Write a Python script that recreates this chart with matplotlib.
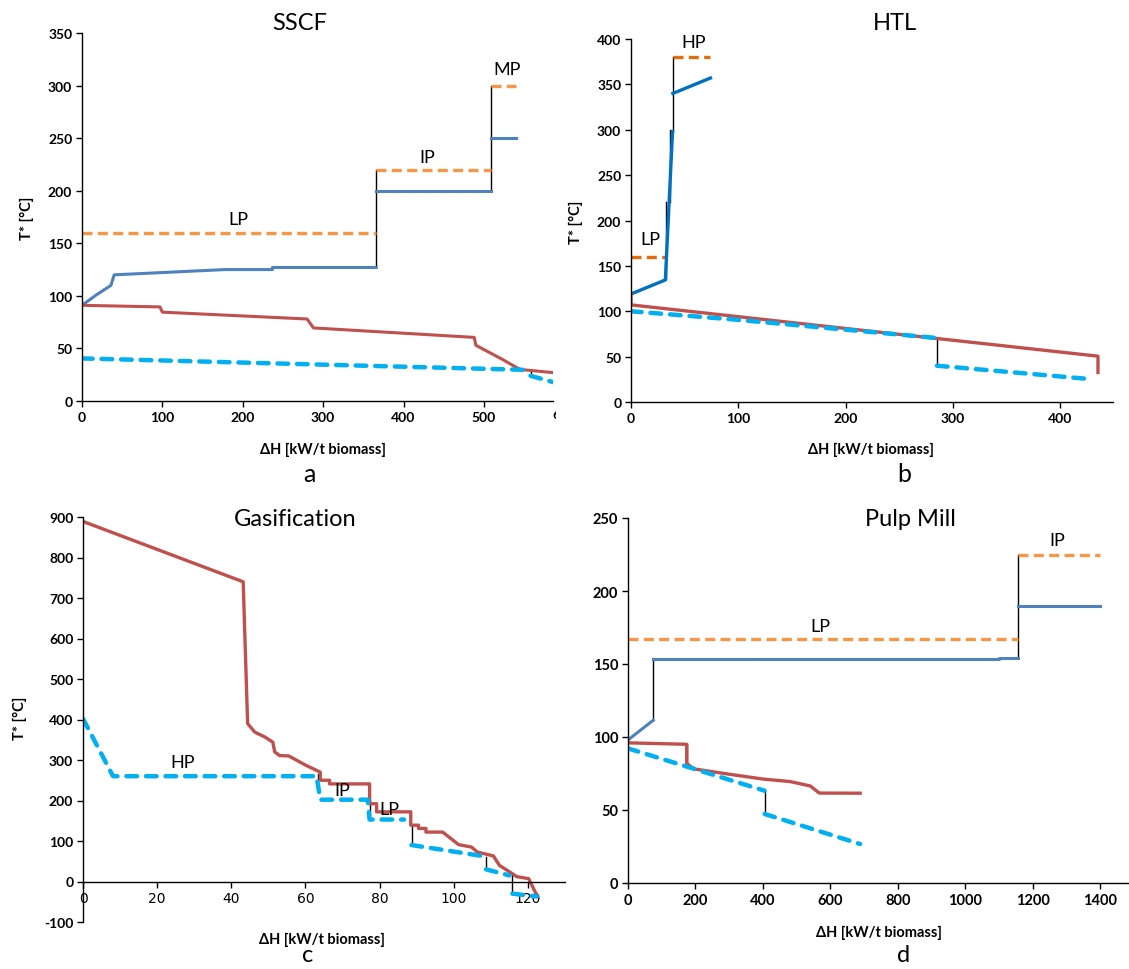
import matplotlib
matplotlib.use("Agg")
import matplotlib.pyplot as plt
from matplotlib.transforms import Bbox

W, H = 1129, 970
FONT = ["Lato", "DejaVu Sans"]
NARROW = ["Liberation Sans Narrow", "Lato", "DejaVu Sans"]

ORANGE = "#F79646"
ORANGE_DK = "#E46C0A"
BLUE = "#4F81BD"
BLUE_BR = "#0070C0"
RED = "#C0504D"
CYAN = "#00B0F0"

# --- a: SSCF ---
a_hot_x = [0, 18, 36, 40, 178, 237, 237, 366]
a_hot_y = [91, 101, 110, 120, 125, 125, 127, 127]
a_hot2_x = [366, 509]
a_hot2_y = [200, 200]
a_hot3_x = [509, 540]
a_hot3_y = [250, 250]
a_red_x = [0, 97, 100, 280, 288, 488, 490, 522, 545, 586]
a_red_y = [91, 89.5, 84.5, 78, 69.5, 60.5, 53, 40, 30, 27]
a_cyan_x = [0, 558]
a_cyan_y = [40.5, 29.5]
a_cyan2_x = [558, 586]
a_cyan2_y = [24, 18]
a_steam = [("LP", 0, 366, 160), ("IP", 366, 509, 220), ("MP", 509, 540, 300)]
a_vlines = [(366, 127, 220), (509, 200, 300), (559, 25, 29.5)]
a_labels = [("LP", 194, 173), ("IP", 430, 232), ("MP", 529, 316)]

# --- b: HTL ---
b_hot_x = [0, 32, 38.7]
b_hot_y = [119, 134.5, 298]
b_hot2_x = [39, 74]
b_hot2_y = [340, 357]
b_red_x = [0, 0, 435, 435]
b_red_y = [120, 107, 50.5, 32.5]
b_cyan_x = [0, 100, 285]
b_cyan_y = [100, 90.5, 70.5]
b_cyan2_x = [285, 430]
b_cyan2_y = [40, 25]
b_steam = [("LP", 0, 32, 160), ("HP", 39.5, 74, 380)]
b_vlines = [(32.7, 135, 220), (36, 220, 300), (39, 298, 380), (285, 40, 70.5)]
b_labels = [("LP", 18, 180), ("HP", 58, 397)]

# --- c: Gasification ---
c_red_x = [0, 43.2, 44.4, 46.3, 49, 51.2, 51.7, 53, 55.5, 60.1, 64, 64, 66.5, 66.5,
           77.3, 77.3, 79.2, 79.2, 88.4, 88.4, 90.5, 90.5, 92.5, 92.5, 97, 101.3,
           104.8, 106.3, 110.7, 112.3, 115, 117, 120.2, 122.4]
c_red_y = [889, 740, 390, 369, 357, 344, 320, 311, 310, 287, 270, 250, 250, 241,
           241, 192, 192, 172, 172, 139, 139, 131, 131, 122, 122, 91,
           85, 73, 63, 40, 24, 12, 7, -34]
c_cyan_x = [0, 8.1, 63, 64, 76.8, 77.3, 86.6]
c_cyan_y = [402, 260, 260, 202, 202, 153, 153]
c_cyan2_x = [88.6, 108.4]
c_cyan2_y = [90, 62]
c_cyan3_x = [108.7, 115]
c_cyan3_y = [30, 15]
c_cyan4_x = [115.8, 122.4]
c_cyan4_y = [-30, -37]
c_vlines = [(63.5, 250, 265), (77.3, 165, 202), (88.6, 90, 139), (108.7, 30, 61), (115.8, -30, 15)]
c_labels = [("HP", 27, 295), ("IP", 70, 225), ("LP", 82.5, 178)]

# --- d: Pulp Mill ---
d_hot_x = [0, 75]
d_hot_y = [98, 111.5]
d_hot2_x = [75, 1099, 1099, 1155]
d_hot2_y = [153.4, 153.4, 154, 154]
d_hot3_x = [1155, 1398]
d_hot3_y = [190, 190]
d_red_x = [0, 174, 174, 190, 200, 300, 400, 480, 540, 567, 688]
d_red_y = [96, 95, 82, 79, 78, 74.5, 71.2, 69.5, 66.5, 61.6, 61.5]
d_cyan_x = [0, 405]
d_cyan_y = [92.2, 63.2]
d_cyan2_x = [405, 688]
d_cyan2_y = [47.3, 26.7]
d_steam = [("LP", 0, 1155, 167.3), ("IP", 1155, 1398, 225)]
d_vlines = [(75, 111.5, 153.4), (174, 82, 95), (405, 47.3, 63.2), (1155, 154, 225)]
d_labels = [("LP", 570, 176), ("IP", 1273, 235)]


def px_axes(fig, left, right, top, bottom):
    return fig.add_axes([left / W, 1 - bottom / H, (right - left) / W, (bottom - top) / H])


def style_axes(ax, xticks, yticks, xlim, ylim, narrow=False):
    fam = NARROW if narrow else FONT
    size = 10.5 if narrow else 10
    fd = {"family": fam, "weight": "bold", "size": size}
    ax.set_xticks(list(xticks))
    ax.set_xticklabels([str(v) for v in xticks], fontdict=fd)
    ax.set_yticks(list(yticks))
    ax.set_yticklabels([str(v) for v in yticks], fontdict=fd)
    ax.set_xlim(*xlim)
    ax.set_ylim(*ylim)
    for s in ("top", "right"):
        ax.spines[s].set_visible(False)
    for s in ("left", "bottom"):
        ax.spines[s].set_color("black")
        ax.spines[s].set_linewidth(1.0)
    ax.tick_params(direction="out", length=4, width=1, color="black", pad=3)
    ax.patch.set_visible(False)


def draw_steam(ax, steam, color, lw=2.4):
    for _, x0, x1, y in steam:
        ax.plot([x0, x1], [y, y], color=color, lw=lw, ls=(0, (3, 1.6)), solid_capstyle="butt")


def draw_cyan(ax, xs, ys):
    ax.plot(xs, ys, color=CYAN, lw=3.2, ls=(0, (2.4, 2.0)), dash_capstyle="round")


def draw_vlines(ax, vlines):
    for x, y0, y1 in vlines:
        ax.plot([x, x], [y0, y1], color="black", lw=1.0, zorder=1)


def draw_labels(ax, labels):
    for txt, x, y in labels:
        ax.text(x, y, txt, ha="center", va="center", fontsize=13, family=FONT)


def ftext(fig, x, y, s, size, weight="normal", rot=0, family=FONT):
    return fig.text(x / W, 1 - y / H, s, ha="center", va="center", fontsize=size,
                    fontweight=weight, rotation=rot, family=family)


fig = plt.figure(figsize=(W / 100, H / 100), dpi=100)

# a
ax = px_axes(fig, 82, 553, 34, 402)
draw_vlines(ax, a_vlines)
draw_steam(ax, a_steam, ORANGE)
ax.plot(a_hot_x, a_hot_y, color=BLUE, lw=2.2)
ax.plot(a_hot2_x, a_hot2_y, color=BLUE, lw=2.2)
ax.plot(a_hot3_x, a_hot3_y, color=BLUE, lw=2.2)
ax.plot(a_red_x, a_red_y, color=RED, lw=2.2)
draw_cyan(ax, a_cyan_x, a_cyan_y)
draw_cyan(ax, a_cyan2_x, a_cyan2_y)
draw_labels(ax, a_labels)
style_axes(ax, range(0, 501, 100), range(0, 351, 50), (0, 586), (0, 350))
# the 600 tick label is cut off by the crop edge in the original
t = ftext(fig, 82 + 600 * 0.804, 415, "600", 10, "bold")
t.set_clip_on(True)
t.set_clip_box(Bbox.from_extents(0, 0, 556, H))
ftext(fig, 300, 23, "SSCF", 17)
ftext(fig, 323, 450, "ΔH [kW/t biomass]", 10.5, "bold")
ftext(fig, 27, 218, "T* [°C]", 10.5, "bold", 90)
ftext(fig, 309, 474, "a", 18)

# b
ax = px_axes(fig, 631, 1113, 40, 403)
draw_vlines(ax, b_vlines)
draw_steam(ax, b_steam, ORANGE_DK)
ax.plot(b_hot_x, b_hot_y, color=BLUE_BR, lw=2.4)
ax.plot(b_hot2_x, b_hot2_y, color=BLUE_BR, lw=2.4)
ax.plot(b_red_x, b_red_y, color=RED, lw=2.4)
draw_cyan(ax, b_cyan_x, b_cyan_y)
draw_cyan(ax, b_cyan2_x, b_cyan2_y)
draw_labels(ax, b_labels)
style_axes(ax, range(0, 401, 100), range(0, 401, 50), (0, 449), (0, 400))
ftext(fig, 895, 23, "HTL", 17)
ftext(fig, 871, 450, "ΔH [kW/t biomass]", 10.5, "bold")
ftext(fig, 576, 222, "T* [°C]", 10.5, "bold", 90)
ftext(fig, 904, 474, "b", 18)

# c
ax = px_axes(fig, 83, 565, 518, 923)
draw_vlines(ax, c_vlines)
ax.plot(c_red_x, c_red_y, color=RED, lw=2.4)
for xs, ys in [(c_cyan_x, c_cyan_y), (c_cyan2_x, c_cyan2_y), (c_cyan3_x, c_cyan3_y), (c_cyan4_x, c_cyan4_y)]:
    draw_cyan(ax, xs, ys)
draw_labels(ax, c_labels)
style_axes(ax, range(0, 121, 20), range(-100, 901, 100), (0, 130), (-100, 900))
ax.spines["bottom"].set_position(("data", 0))
ftext(fig, 295, 519, "Gasification", 17)
ftext(fig, 322, 940, "ΔH [kW/t biomass]", 10.5, "bold")
ftext(fig, 20, 718, "T* [°C]", 10.5, "bold", 90)
ftext(fig, 308, 956, "c", 17)

# d
ax = px_axes(fig, 628, 1129, 519, 884)
draw_vlines(ax, d_vlines)
draw_steam(ax, d_steam, ORANGE)
ax.plot(d_hot_x, d_hot_y, color=BLUE, lw=2.2)
ax.plot(d_hot2_x, d_hot2_y, color=BLUE, lw=2.2)
ax.plot(d_hot3_x, d_hot3_y, color=BLUE, lw=2.2)
ax.plot(d_red_x, d_red_y, color=RED, lw=2.4)
draw_cyan(ax, d_cyan_x, d_cyan_y)
draw_cyan(ax, d_cyan2_x, d_cyan2_y)
draw_labels(ax, d_labels)
style_axes(ax, range(0, 1401, 200), range(0, 251, 50), (0, 1485), (0, 250), narrow=True)
ftext(fig, 910, 520, "Pulp Mill", 17)
ftext(fig, 879, 933, "ΔH [kW/t biomass]", 10.5, "bold", family=NARROW)
ftext(fig, 904, 956, "d", 17)

fig.savefig("out.png", dpi=100)
